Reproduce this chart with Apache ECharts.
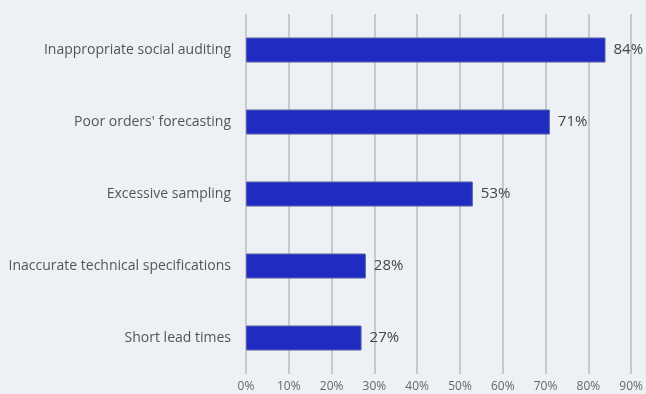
<!DOCTYPE html>
<html>
<head>
<meta charset="utf-8">
<script src="https://cdn.jsdelivr.net/npm/echarts@6/dist/echarts.min.js"></script>
<style>
  html, body { margin: 0; padding: 0; background: #edf1f5; }
  #chart { width: 646px; height: 394px; }
</style>
</head>
<body>
<div id="chart"></div>
<script>
// Supply-chain issues, share of respondents (top to bottom)
const categories = [
  'Inappropriate social auditing',
  "Poor orders' forecasting",
  'Excessive sampling',
  'Inaccurate technical specifications',
  'Short lead times'
];
const values = [84, 71, 53, 28, 27];
const tickStep = 10;
const tickMax = 90;

const chart = echarts.init(document.getElementById('chart'));
chart.setOption({
  backgroundColor: '#edf1f5',
  animation: false,
  grid: { left: 246, right: 11, top: 14, bottom: 20, containLabel: false },
  xAxis: {
    type: 'value',
    min: 0,
    max: tickMax,
    interval: tickStep,
    axisLine: { show: false },
    axisTick: { show: false },
    splitLine: { show: true, lineStyle: { color: '#b9bcc0', width: 1.5 } },
    axisLabel: {
      formatter: v => v + '%',
      color: '#666',
      fontSize: 12,
      fontFamily: 'Open Sans, sans-serif',
      margin: 7
    }
  },
  yAxis: {
    type: 'category',
    data: categories,
    inverse: true,
    axisLine: { show: false },
    axisTick: { show: false },
    axisLabel: {
      color: '#555',
      fontSize: 14,
      fontFamily: 'Open Sans, sans-serif',
      margin: 15
    }
  },
  series: [{
    type: 'bar',
    data: values,
    barWidth: 25,
    itemStyle: { color: '#1f2cbf', borderColor: '#5560a8', borderWidth: 1 },
    label: {
      show: true,
      position: 'right',
      distance: 8,
      formatter: p => p.value + '%',
      color: '#444',
      fontSize: 15,
      fontFamily: 'Open Sans, sans-serif'
    }
  }]
});
</script>
</body>
</html>
